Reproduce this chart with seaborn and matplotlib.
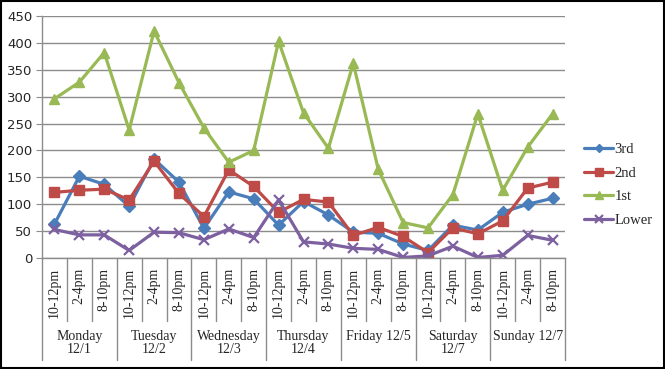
import matplotlib
matplotlib.use("Agg")
import matplotlib.pyplot as plt
import matplotlib.transforms as mtransforms
from matplotlib.patches import Rectangle
from matplotlib.lines import Line2D
import seaborn as sns
import pandas as pd

# ---- data ----
slots = ["10-12pm", "2-4pm", "8-10pm"]
days = ["Monday\n12/1", "Tuesday\n12/2", "Wednesday\n12/3", "Thursday\n12/4",
        "Friday 12/5", "Saturday\n12/7", "Sunday 12/7"]
series_names = ["3rd", "2nd", "1st", "Lower"]
third = [63, 152, 137, 96, 184, 141, 55, 123, 110, 61, 105, 80, 48, 46, 26, 14, 61, 52, 85, 100, 111]
second = [122, 126, 128, 108, 180, 120, 77, 164, 133, 85, 109, 104, 42, 57, 40, 10, 56, 45, 69, 130, 141]
first = [296, 327, 382, 238, 422, 326, 242, 178, 200, 403, 270, 204, 362, 165, 66, 56, 118, 268, 126, 206, 268]
lower = [53, 43, 43, 14, 48, 47, 34, 54, 38, 108, 30, 26, 18, 16, 1, 4, 22, 1, 5, 42, 33]
y_ticks = [0, 50, 100, 150, 200, 250, 300, 350, 400, 450]

colors = ["#4A7EBB", "#BE4B48", "#98B954", "#7D60A0"]
markers = ["D", "s", "^", "x"]
msizes = [6, 7.5, 7.5, 7]
mews = [1, 1, 1, 1.6]

sns.set_style("white")
plt.rcParams["font.family"] = ["DejaVu Sans"]
serif = ["Liberation Serif", "DejaVu Serif"]

fig = plt.figure(figsize=(6.65, 3.69), dpi=100)
ax = fig.add_axes([42 / 665, 1 - 258 / 369, (565 - 42) / 665, (258 - 16) / 369])

labels_x = [s for _ in days for s in slots]
pos = list(range(len(labels_x)))

df = pd.DataFrame({"pos": pos * 4,
                   "value": third + second + first + lower,
                   "series": sum([[n] * len(pos) for n in series_names], [])})

for name, c, m, ms, mew in zip(series_names, colors, markers, msizes, mews):
    sub = df[df["series"] == name]
    sns.lineplot(data=sub, x="pos", y="value", ax=ax, color=c, marker=m,
                 markersize=ms, markeredgecolor=c, markeredgewidth=mew,
                 linewidth=2.3, legend=False)

ax.set_xlim(-0.5, len(pos) - 0.5)
ax.set_ylim(0, 450)
ax.set_yticks(y_ticks)
ax.set_yticklabels([str(v) for v in y_ticks], fontsize=9.5)
ax.set_xlabel("")
ax.set_ylabel("")
ax.yaxis.grid(True, color="#8C8C8C", linewidth=1)
ax.xaxis.grid(False)
ax.set_axisbelow(True)
for s in ["top", "right"]:
    ax.spines[s].set_visible(False)
for s in ["left", "bottom"]:
    ax.spines[s].set_color("#8C8C8C")
    ax.spines[s].set_linewidth(1)
ax.tick_params(axis="y", length=4, color="#8C8C8C", pad=3, left=True)

ax.set_xticks(pos)
ax.set_xticklabels(labels_x, rotation=90, fontsize=10, family=serif)
ax.tick_params(axis="x", length=0, pad=7)

# category separators
trans = mtransforms.blended_transform_factory(ax.transData, ax.transAxes)
for k in range(len(pos) + 1):
    x = k - 0.5
    bottom = -0.42 if k % 3 == 0 else -0.26
    ax.plot([x, x], [0, bottom], transform=trans, clip_on=False,
            color="#8C8C8C", linewidth=1)

for d, name in enumerate(days):
    ax.text(3 * d + 1, -0.298, name, transform=trans, ha="center", va="top",
            fontsize=10, family=serif, linespacing=1.0)

handles = [Line2D([], [], color=c, marker=m, markersize=ms * 0.75,
                  markeredgecolor=c, markeredgewidth=mew, linewidth=2.3)
           for c, m, ms, mew in zip(colors, markers, msizes, mews)]
ax.legend(handles, series_names, loc="center left",
          bbox_to_anchor=(584 / 665, 1 - 185 / 369), bbox_transform=fig.transFigure,
          frameon=False, prop={"family": serif, "size": 10.5},
          handlelength=2.0, handletextpad=0.1, labelspacing=0.72,
          borderaxespad=0, borderpad=0)

fig.add_artist(Rectangle((0.001, 0.002), 0.997, 0.995, transform=fig.transFigure,
                         fill=False, edgecolor="black", linewidth=1.5))

fig.savefig("out.png", dpi=100)
